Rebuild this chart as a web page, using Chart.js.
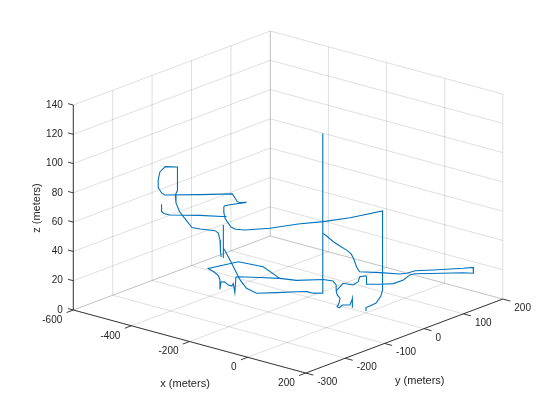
<!DOCTYPE html>
<html>
<head>
<meta charset="utf-8">
<script src="https://cdn.jsdelivr.net/npm/chart.js@4.4.1/dist/chart.umd.min.js"></script>
<style>
  html, body { margin: 0; padding: 0; background: #fff; }
  #wrap { width: 560px; height: 420px; }
</style>
</head>
<body>
<div id="wrap"><canvas id="chart" width="560" height="420"></canvas></div>
<script>
// axis ticks (meters)
const xTicks = [-600, -400, -200, 0, 200];
const yTicks = [-300, -200, -100, 0, 100, 200];
const zTicks = [0, 20, 40, 60, 80, 100, 120, 140];

// track, upper route (end point -> ramp -> loop -> slope)
const upperX = [6, 3, 18, 38, 49, 52, 52, 23, -10, -47, -81, -122, -144, -166, -200, -226, -260, -288, -291, -286, -266, -277, -288, -310, -339, -400, -468, -476, -487, -499, -515, -517, -491, -491, -478, -450, -410, -371, -334, -318, -287, -276, -251, -220, -197];
const upperY = [-4, -2, -3, -2, 2, 4, 4, -57, -101, -137, -184, -217, -224, -220, -204, -191, -169, -148, -143, -134, -107, -115, -114, -103, -89, -126, -165, -167, -167, -159, -143, -128, -116, -116, -131, -150, -170, -183, -195, -186, -171, -171, -185, -207, -222];
const upperZ = [2, 4, 6, 9, 14, 18, 72, 72, 72, 72, 72, 72, 72, 72, 72, 72, 72, 72, 72, 72, 72, 72, 72, 72, 72, 72, 72, 73, 76, 80, 83, 85, 85, 69, 68, 66, 64, 62, 60, 59, 58, 57, 55, 52, 50];

// track, descent to the ground and the tall climb
const climbX = [-207, -207, -207, -221, -218, -217, -224, -229, -245, -208, -173, -153, -132, -113, -113];
const climbY = [-209, -209, -209, -194, -184, -172, -154, -134, -97, -73, -48, -37, -36, -26, -26];
const climbZ = [70, 47.5, 54, 50, 43, 35, 26, 18, 10, 10, 10, 10, 10, 10, 119];

// track, middle level piece
const middleX = [-558, -558, -543, -523, -461, -400];
const middleY = [-107, -107, -112, -112, -81, -58];
const middleZ = [55, 50, 50, 50, 50, 50];

// track, ramp down and the long loop on the right
const loopX = [-113, -110, -101, -96, -92, -94, -97, -85, -76, -30, 17, 27, 30, 62, 113, 128, 160, 137, 74, 45, 42, 56, 55, 35, 5, 5, -3, -10, -10, -18, -47, -52];
const loopY = [-26, -17, -8, 5, 19, 32, 40, 39, 40, 58, 74, 84, 103, 125, 164, 178, 155, 146, 108, 91, 81, 54, 29, 14, -2, -2, 2, -8, -12, -19, -23, -37];
const loopZ = [51, 48, 44, 40, 36, 32, 28, 23, 20, 20, 20, 20, 20, 20, 20, 20, 20, 20, 20, 20, 20, 20, 20, 20, 20, 25, 25, 25, 22, 20, 20, 16];

// track, ground level block
const groundX = [-200, -295, -371, -396, -365, -338, -311, -311, -298, -292, -267, -255, -265, -261, -295, -292, -244, -200, -156, -107, -79, -52, -52];
const groundY = [-71, -43, -50, -108, -116, -125, -141, -141, -148, -143, -152, -152, -141, -140, -112, -109, -89, -71, -61, -29, -25, -37, -37];
const groundZ = [20, 20, 20, 20, 20, 20, 20, 13.5, 20, 20, 20, 20, 20, 14, 20, 20, 20, 20, 20, 20, 20, 20, 16];

// track, short end piece
const tailX = [-52, -28, -5, 20, 34, 44, 36, 51, 28, 20, 20];
const tailY = [-37, -52, -62, -83, -98, -100, -86, -78, -56, -49, -49];
const tailZ = [16, 16, 16, 16, 16, 16, 16, 16, 16, 16, 9.6];

// 3D view (az -37.5, el 30) fitted to the axes box
const view = { ox: 73.3, oy: 310, xu: [0.2906, 0.0788], yu: [0.394, -0.148], zu: 1.464 };

function project(x, y, z) {
  const u = x - xTicks[0];
  const v = y - yTicks[0];
  return {
    x: view.ox + view.xu[0] * u + view.yu[0] * v,
    y: view.oy + view.xu[1] * u + view.yu[1] * v - view.zu * (z - zTicks[0]),
  };
}

const xMin = xTicks[0], xMax = xTicks[xTicks.length - 1];
const yMin = yTicks[0], yMax = yTicks[yTicks.length - 1];
const zMin = zTicks[0], zMax = zTicks[zTicks.length - 1];

const datasets = [];
function addLine(pts, color, width, order) {
  datasets.push({
    data: pts.map((p) => project(p[0], p[1], p[2])),
    showLine: true,
    borderColor: color,
    borderWidth: width,
    pointRadius: 0,
    fill: false,
    tension: 0,
    order: order,
  });
}

// grid on the floor and the two back walls
const gridColor = "rgba(38, 38, 38, 0.15)";
xTicks.forEach((x) => {
  addLine([[x, yMin, zMin], [x, yMax, zMin], [x, yMax, zMax]], gridColor, 1, 2);
});
yTicks.forEach((y) => {
  addLine([[xMax, y, zMin], [xMin, y, zMin], [xMin, y, zMax]], gridColor, 1, 2);
});
zTicks.forEach((z) => {
  addLine([[xMin, yMin, z], [xMin, yMax, z], [xMax, yMax, z]], gridColor, 1, 2);
});

// axis lines and tick marks
const axisColor = "#262626";
addLine([[xMin, yMin, zMin], [xMax, yMin, zMin]], axisColor, 0.9, 1);
addLine([[xMax, yMin, zMin], [xMax, yMax, zMin]], axisColor, 0.9, 1);
addLine([[xMin, yMin, zMin], [xMin, yMin, zMax]], axisColor, 0.9, 1);
xTicks.forEach((x) => addLine([[x, yMin, zMin], [x, yMin - 17, zMin]], axisColor, 0.9, 1));
yTicks.forEach((y) => addLine([[xMax, y, zMin], [xMax + 26, y, zMin]], axisColor, 0.9, 1));
zTicks.forEach((z) => addLine([[xMin, yMin, z], [xMin - 18, yMin, z]], axisColor, 0.9, 1));

// track sections
function zip3(xs, ys, zs) {
  return xs.map((x, i) => [x, ys[i], zs[i]]);
}
const trackColor = "#0072BD";
addLine(zip3(upperX, upperY, upperZ), trackColor, 1.1, 0);
addLine(zip3(climbX, climbY, climbZ), trackColor, 1.1, 0);
addLine(zip3(middleX, middleY, middleZ), trackColor, 1.1, 0);
addLine(zip3(loopX, loopY, loopZ), trackColor, 1.1, 0);
addLine(zip3(groundX, groundY, groundZ), trackColor, 1.1, 0);
addLine(zip3(tailX, tailY, tailZ), trackColor, 1.1, 0);

// tick labels and axis titles
const axisText = {
  id: "axisText",
  afterDraw(chart) {
    const ctx = chart.ctx;
    const sx = chart.scales.x, sy = chart.scales.y;
    const at = (p) => ({ x: sx.getPixelForValue(p.x), y: sy.getPixelForValue(p.y) });
    ctx.save();
    ctx.fillStyle = "#262626";
    ctx.textBaseline = "middle";
    ctx.font = '10px "Liberation Sans", Arial, sans-serif';

    ctx.textAlign = "right";
    zTicks.forEach((z) => {
      const p = at(project(xMin, yMin, z));
      ctx.fillText(String(z), p.x - 10.5, p.y);
    });
    xTicks.forEach((x) => {
      const p = at(project(x, yMin, zMin));
      ctx.fillText(String(x), p.x - 11, p.y + 10);
    });
    ctx.textAlign = "left";
    yTicks.forEach((y) => {
      const p = at(project(xMax, y, zMin));
      ctx.fillText(String(y), p.x + 11.5, p.y + 9.3);
    });

    ctx.font = '11px "Liberation Sans", Arial, sans-serif';
    ctx.textAlign = "center";
    const xt = at(project((xMin + xMax) / 2, yMin, zMin));
    ctx.fillText("x (meters)", xt.x - 4.5, xt.y + 42.5);
    const yt = at(project(xMax, (yMin + yMax) / 2, zMin));
    ctx.fillText("y (meters)", yt.x + 15.5, yt.y + 45.4);
    const zt = at(project(xMin, yMin, (zMin + zMax) / 2));
    ctx.translate(zt.x - 36.6, zt.y + 0.5);
    ctx.rotate(-Math.PI / 2);
    ctx.fillText("z (meters)", 0, 0);
    ctx.restore();
  },
};

new Chart(document.getElementById("chart").getContext("2d"), {
  type: "scatter",
  data: { datasets: datasets },
  options: {
    responsive: false,
    animation: false,
    devicePixelRatio: 1,
    events: [],
    layout: { padding: 0 },
    plugins: {
      legend: { display: false },
      tooltip: { enabled: false },
    },
    scales: {
      x: { type: "linear", min: 0, max: 560, display: false },
      y: { type: "linear", min: 0, max: 420, reverse: true, display: false },
    },
  },
  plugins: [axisText],
});
</script>
</body>
</html>
